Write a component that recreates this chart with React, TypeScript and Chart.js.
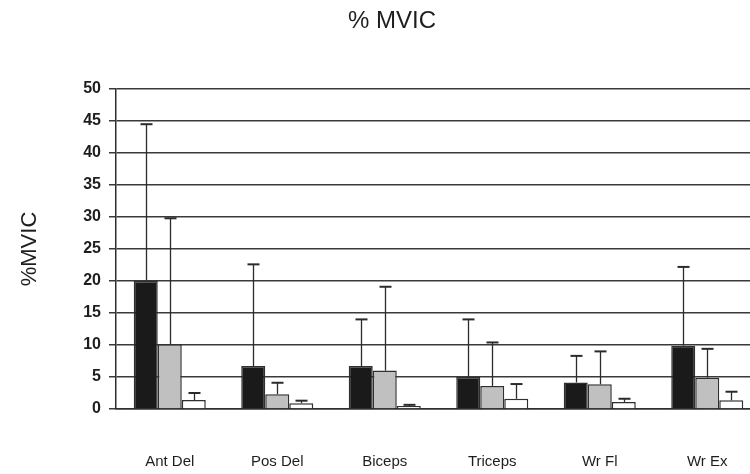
import React, { useEffect, useRef } from "react";
import { Chart, registerables } from "chart.js";

Chart.register(...registerables);

const categories = ["Ant Del", "Pos Del", "Biceps", "Triceps", "Wr Fl", "Wr Ex"];
const blackMean = [20.0, 6.7, 6.7, 5.0, 4.15, 9.9];
const blackSD = [24.5, 15.9, 7.3, 9.0, 4.15, 12.3];
const grayMean = [10.1, 2.3, 6.0, 3.6, 3.85, 4.9];
const graySD = [19.7, 1.8, 13.1, 6.8, 5.15, 4.5];
const whiteMean = [1.4, 0.9, 0.45, 1.6, 1.1, 1.35];
const whiteSD = [1.1, 0.4, 0.2, 2.3, 0.5, 1.35];
const yTicks = [0, 5, 10, 15, 20, 25, 30, 35, 40, 45, 50];
const chartTitle = "% MVIC";
const yTitle = "%MVIC";

const sdList = [blackSD, graySD, whiteSD];

const errorBarPlugin = {
  id: "errorBars",
  afterDatasetsDraw(chart: any) {
    const ctx = chart.ctx;
    const yScale = chart.scales.y;
    ctx.save();
    ctx.strokeStyle = "#2b2b2b";
    chart.data.datasets.forEach((ds: any, di: number) => {
      const meta = chart.getDatasetMeta(di);
      meta.data.forEach((bar: any, i: number) => {
        const v = ds.data[i];
        const top = yScale.getPixelForValue(v + sdList[di][i]);
        const x = Math.round(bar.x) + 0.5;
        ctx.lineWidth = 1.3;
        ctx.beginPath();
        ctx.moveTo(x, bar.y);
        ctx.lineTo(x, top);
        ctx.stroke();
        ctx.lineWidth = 2;
        ctx.beginPath();
        ctx.moveTo(x - 6, top);
        ctx.lineTo(x + 6, top);
        ctx.stroke();
      });
    });
    ctx.restore();
  },
};

const titlePlugin = {
  id: "customTitle",
  afterDraw(chart: any) {
    const ctx = chart.ctx;
    ctx.save();
    ctx.font = "24px 'Liberation Sans', Arial, sans-serif";
    ctx.fillStyle = "#1e1e1e";
    ctx.textAlign = "center";
    ctx.textBaseline = "middle";
    ctx.fillText(chartTitle, 392, 21);
    ctx.restore();
  },
};

export default function App() {
  const ref = useRef<HTMLCanvasElement>(null);
  useEffect(() => {
    if (!ref.current) return;
    const border = "#2f2f2f";
    const chart = new Chart(ref.current, {
      type: "bar",
      data: {
        labels: categories,
        datasets: [
          { data: blackMean, backgroundColor: "#1a1a1a", borderColor: border, borderWidth: 1.5 },
          { data: grayMean, backgroundColor: "#c0c0c0", borderColor: border, borderWidth: 1.5 },
          { data: whiteMean, backgroundColor: "#ffffff", borderColor: border, borderWidth: 1.5 },
        ],
      },
      options: {
        responsive: false,
        animation: false,
        layout: { padding: { top: 89, right: 14, left: 0, bottom: 0 } },
        plugins: { legend: { display: false }, tooltip: { enabled: false }, title: { display: false } },
        datasets: { bar: { categoryPercentage: 0.67, barPercentage: 1 } },
        scales: {
          x: {
            grid: { display: false },
            border: { display: true, color: "#2f2f2f", width: 1.5 },
            ticks: {
              padding: 36,
              color: "#1e1e1e",
              font: { family: "'Liberation Sans', Arial, sans-serif", size: 15 },
              maxRotation: 0,
            },
            afterFit(scale: any) {
              scale.height = 65;
            },
          },
          y: {
            min: 0,
            max: 50,
            afterBuildTicks(scale: any) {
              scale.ticks = yTicks.map((v) => ({ value: v }));
            },
            grid: { color: "#3a3a3a", lineWidth: 1.5, tickLength: 7, drawTicks: true },
            border: { display: true, color: "#2f2f2f", width: 1.5 },
            ticks: {
              padding: 8,
              color: "#1e1e1e",
              font: { family: "'Liberation Sans', Arial, sans-serif", size: 16, weight: "bold" },
            },
            title: {
              display: true,
              text: yTitle,
              color: "#1e1e1e",
              font: { family: "'Liberation Sans', Arial, sans-serif", size: 22 },
              padding: { top: 17, bottom: 0 },
            },
            afterFit(scale: any) {
              scale.width = 116;
            },
          },
        },
      },
      plugins: [errorBarPlugin, titlePlugin],
    } as any);
    return () => chart.destroy();
  }, []);
  return (
    <div
      style={{
        position: "fixed",
        left: 0,
        top: 0,
        width: 750,
        height: 474,
        overflow: "hidden",
        background: "#fff",
      }}
    >
      <canvas ref={ref} width={775} height={474} style={{ display: "block" }} />
    </div>
  );
}
